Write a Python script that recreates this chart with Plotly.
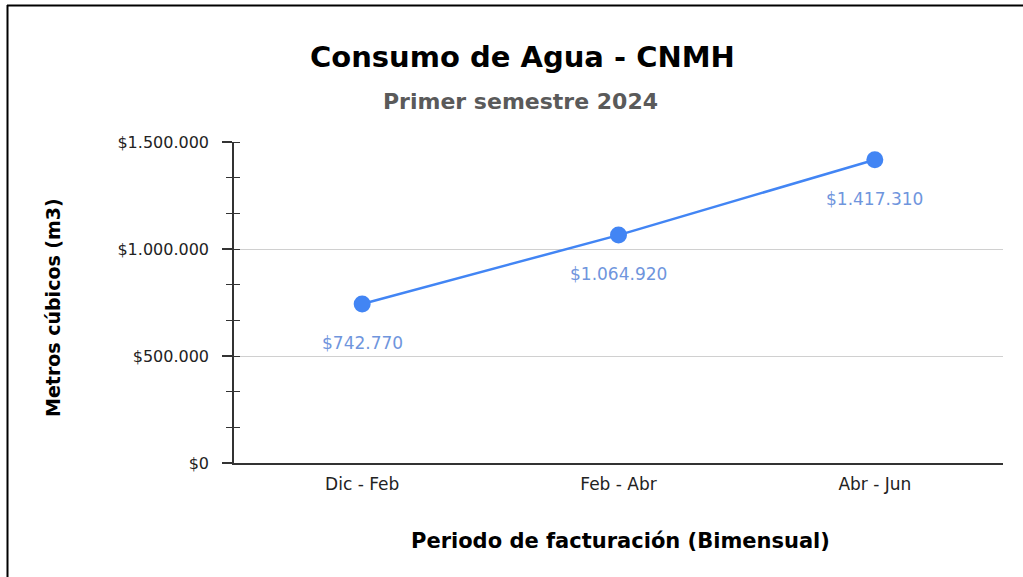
import plotly.graph_objects as go

categories = ["Dic - Feb", "Feb - Abr", "Abr - Jun"]
values = [742770, 1064920, 1417310]
y_tickvals = [0, 500000, 1000000, 1500000]

title = "Consumo de Agua - CNMH"
subtitle = "Primer semestre 2024"
x_title = "Periodo de facturación (Bimensual)"
y_title = "Metros cúbicos (m3)"

def fmt(v):
    return "$" + f"{v:,}".replace(",", ".")

W, H = 1023, 577
L, R, T, B = 234, 20, 142, 114
pw, ph = W - L - R, H - T - B

def px(x):
    return (x - L) / pw

def py(y):
    return (H - B - y) / ph

FONT = "DejaVu Sans"

fig = go.Figure()
fig.add_trace(go.Scatter(
    x=categories, y=values, mode="lines+markers",
    line=dict(color="#4285f4", width=2.5),
    marker=dict(color="#4285f4", size=17),
    hoverinfo="skip", showlegend=False,
))
fig.add_trace(go.Scatter(
    x=categories, y=values, mode="none", yaxis="y2",
    hoverinfo="skip", showlegend=False,
))

for c, v in zip(categories, values):
    fig.add_annotation(
        x=c, y=v, xref="x", yref="y", text=fmt(v), showarrow=False,
        yshift=-39, font=dict(family=FONT, size=17, color="#6f95dd"),
    )

def label(x, y, text, size, color="#000", angle=0):
    fig.add_annotation(x=px(x), y=py(y), xref="paper", yref="paper", text=text,
                       xanchor="center", yanchor="middle", textangle=angle,
                       showarrow=False, font=dict(family=FONT, size=size, color=color))

label(522, 57, "<b>" + title + "</b>", 29)
label(520, 101, "<b>" + subtitle + "</b>", 22, "#5a5a5a")
label(620, 541, "<b>" + x_title + "</b>", 21)
label(53, 308, "<b>" + y_title + "</b>", 19, angle=-90)

# frame
fig.add_shape(type="line", xref="paper", yref="paper", x0=px(7), x1=px(1023), y0=py(5.5), y1=py(5.5),
              line=dict(color="#000", width=2))
fig.add_shape(type="line", xref="paper", yref="paper", x0=px(7.5), x1=px(7.5), y0=py(5), y1=py(577),
              line=dict(color="#000", width=2))

yaxis_common = dict(range=[0, 1500000], tickmode="array", tickvals=y_tickvals, fixedrange=True)
fig.update_layout(
    width=W, height=H,
    margin=dict(l=L, r=R, t=T, b=B),
    paper_bgcolor="white", plot_bgcolor="white",
    xaxis=dict(
        type="category", range=[-0.5, 2.5], showgrid=False, showline=True, fixedrange=True,
        linecolor="#333", linewidth=1.5, ticks="", ticklabelstandoff=5,
        tickfont=dict(family=FONT, size=17, color="#222"), zeroline=False,
    ),
    yaxis=dict(
        **yaxis_common, ticktext=[fmt(v) for v in y_tickvals],
        showgrid=True, gridcolor="#d0d0d0", gridwidth=1,
        showline=True, linecolor="#333", linewidth=1.5, zeroline=False,
        ticks="outside", ticklen=10, tickcolor="#333", tickwidth=1.5,
        ticklabelstandoff=10,
        tickfont=dict(family=FONT, size=16, color="#222"),
        minor=dict(dtick=500000 / 3, ticks="outside", ticklen=6, tickcolor="#333", tickwidth=1.2, showgrid=False),
    ),
    yaxis2=dict(
        **yaxis_common, overlaying="y", side="left", showgrid=False, showline=False,
        showticklabels=False, zeroline=False, ticks="",
        minor=dict(dtick=500000 / 3, ticks="inside", ticklen=6, tickcolor="#333", tickwidth=1.2, showgrid=False),
    ),
)

fig.write_html("out.html", config={"displayModeBar": False},
               post_script="document.body.style.margin='0';document.body.style.overflow='hidden';")
